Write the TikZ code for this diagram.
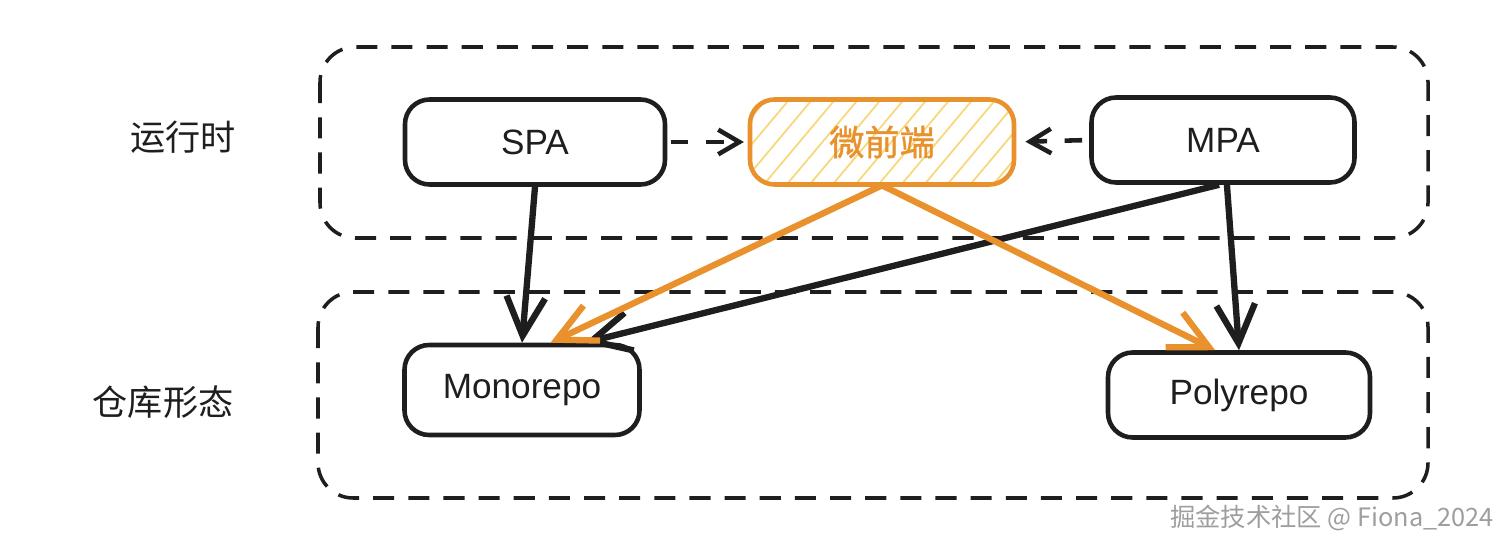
\documentclass[tikz,border=0pt]{standalone}
\usepackage{fontspec}
\setmainfont{Liberation Sans}
\newfontfamily\cjk{Noto Sans CJK SC}
\newfontfamily\cjkheavy[FakeBold=1.2]{Noto Sans CJK SC}
\usetikzlibrary{arrows.meta, patterns.meta}
\definecolor{feorange}{RGB}{232,145,45}
\definecolor{fehatch}{RGB}{246,216,120}
\definecolor{ink}{RGB}{30,30,30}

\begin{document}
\begin{tikzpicture}[
  box/.style={draw=ink, line width=1.3pt, rounded corners=7pt, inner sep=0pt,
    minimum width=2.6cm, minimum height=0.85cm, text=ink, font=\fontsize{10}{12}\selectfont},
  frame/.style={draw=ink, line width=1pt, dash pattern=on 6pt off 4pt, rounded corners=10pt},
  link/.style={draw=ink, line width=1.8pt, -{Straight Barb[length=11pt,width=11pt]}},
  hint/.style={draw=ink, line width=1.3pt, dash pattern=on 5pt off 5pt, -{Straight Barb[length=6pt,width=7pt]}}
]
\useasboundingbox (0, 0) rectangle (15.1, 5.48);
% two dashed groups
\draw[frame] (3.20, 5.01) rectangle (14.28, 3.10);
\draw[frame] (3.18, 2.56) rectangle (14.28, 0.50);
\node[text=ink, font=\cjk\fontsize{10}{12}\selectfont] (runtime) at (1.83, 4.11) {运行时};
\node[text=ink, font=\cjk\fontsize{10}{12}\selectfont] (repoform) at (1.63, 1.46) {仓库形态};
% boxes
\node[box] (spa) at (5.35, 4.06) {SPA};
\node[box, minimum width=2.64cm, draw=feorange, text=feorange, font=\cjkheavy\fontsize{10}{12}\selectfont,
  pattern={Lines[angle=50, distance=5pt, line width=0.5pt]}, pattern color=fehatch] (fe) at (8.82, 4.06) {微前端};
\node[box, minimum width=2.63cm] (mpa) at (12.23, 4.08) {MPA};
\node[box, minimum width=2.35cm, minimum height=0.90cm] (mono) at (5.22, 1.58) {Monorepo};
\node[box, minimum width=2.62cm] (poly) at (12.39, 1.53) {Polyrepo};
% arrows
\draw[hint, shorten <=1pt, shorten >=1.5pt] (spa.east) -- (fe.west);
\draw[hint, shorten <=2pt, shorten >=3pt] (mpa.west) -- (fe.east);
\draw[link] (spa.south) -- (mono.north);
\draw[link] (mpa.-85) -- (poly.north);
\draw[link] (mpa.-95) -- (mono.37);
\draw[link, draw=feorange] (fe.south) -- (mono.59);
\draw[link, draw=feorange] (fe.south) -- (poly.118);
% watermark
\node[text=black!38, font=\cjk\fontsize{7.2}{9}\selectfont] (mark) at (13.32, 0.30) {掘金技术社区 @ Fiona\_2024};
\end{tikzpicture}
\end{document}
